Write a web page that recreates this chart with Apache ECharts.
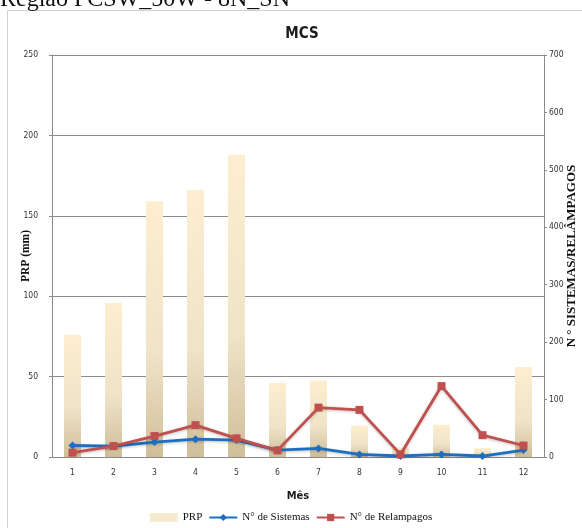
<!DOCTYPE html>
<html>
<head>
<meta charset="utf-8">
<script src="https://cdn.jsdelivr.net/npm/echarts@6/dist/echarts.min.js"></script>
<style>
  html, body { margin: 0; padding: 0; background: #fff; }
  #chart { width: 582px; height: 528px; }
</style>
</head>
<body>
<div id="chart"></div>
<script>
// Monthly precipitation and MCS counts
const months = ['1', '2', '3', '4', '5', '6', '7', '8', '9', '10', '11', '12'];
const prp = [76, 96, 159, 166, 188, 46, 47.5, 19.5, 6, 20, 5.5, 56];
const sistemas = [20, 19, 26, 31, 29.5, 12, 15, 4.5, 1.7, 4.5, 1.7, 12];
const relampagos = [7.5, 19, 36.5, 55.5, 32.5, 11.5, 86, 82, 4.5, 123.5, 38, 20];
const leftTicks = { min: 0, max: 250, interval: 50 };
const rightTicks = { min: 0, max: 700, interval: 100 };

const narrow = '"DejaVu Sans Condensed", "Liberation Sans Narrow", "Roboto Condensed", sans-serif';
const serif = '"Liberation Serif", "Times New Roman", serif';
const axisGray = '#8a8a8a';

const chart = echarts.init(document.getElementById('chart'));
chart.setOption({
  backgroundColor: '#fff',
  animation: false,
  title: {
    text: 'MCS',
    left: 297,
    textAlign: 'center',
    top: 22,
    textStyle: { fontFamily: narrow, fontWeight: 'bold', fontSize: 15, color: '#1a1a1a' }
  },
  graphic: [
    {
      type: 'rect',
      shape: { x: 7.5, y: 10.5, width: 700, height: 700 },
      style: { fill: 'none', stroke: '#d0d0d0', lineWidth: 1 },
      silent: true
    },
    {
      type: 'text',
      left: 0,
      top: -12,
      style: { text: 'Região PCSW_50W - 8N_SN', font: '24px ' + serif, fill: '#111' },
      silent: true
    }
  ],
  legend: {
    bottom: 0,
    left: 'center',
    itemGap: 6,
    itemWidth: 28,
    itemHeight: 9,
    textStyle: { fontFamily: serif, fontSize: 11, color: '#111' },
    data: [
      { name: 'PRP', icon: 'rect', itemStyle: { color: '#f6ead0' } },
      { name: 'N° de Sistemas' },
      { name: 'N° de Relampagos' }
    ]
  },
  grid: { left: 52, right: 38, top: 55, bottom: 71, outerBoundsMode: 'none', containLabel: false },
  xAxis: {
    type: 'category',
    data: months,
    boundaryGap: true,
    name: 'Mês',
    nameLocation: 'middle',
    nameGap: 34,
    nameMoveOverlap: false,
    nameTextStyle: { fontFamily: narrow, fontWeight: 'bold', fontSize: 11, color: '#1a1a1a' },
    axisLine: { lineStyle: { color: axisGray } },
    axisTick: { length: 4, lineStyle: { color: axisGray } },
    axisLabel: { margin: 11, fontFamily: narrow, fontSize: 8.5, color: '#333' }
  },
  yAxis: [
    {
      type: 'value',
      min: leftTicks.min,
      max: leftTicks.max,
      interval: leftTicks.interval,
      name: 'PRP (mm)',
      nameLocation: 'middle',
      nameRotate: 90,
      nameGap: 20,
      nameMoveOverlap: false,
      nameTextStyle: { fontFamily: serif, fontWeight: 'bold', fontSize: 11.5, color: '#111' },
      axisLine: { show: true, lineStyle: { color: axisGray } },
      axisTick: { show: true, length: 3, lineStyle: { color: axisGray } },
      axisLabel: { margin: 14, fontFamily: narrow, fontSize: 8.5, color: '#333' },
      splitLine: { show: true, lineStyle: { color: '#8c8c8c', width: 1 } }
    },
    {
      type: 'value',
      position: 'right',
      min: rightTicks.min,
      max: rightTicks.max,
      interval: rightTicks.interval,
      name: 'N ° SISTEMAS/RELÂMPAGOS',
      nameLocation: 'middle',
      nameRotate: 90,
      nameGap: 21,
      nameMoveOverlap: false,
      nameTextStyle: { fontFamily: serif, fontWeight: 'bold', fontSize: 13, color: '#111' },
      axisLine: { show: true, lineStyle: { color: axisGray } },
      axisTick: { show: true, length: 3, lineStyle: { color: axisGray } },
      axisLabel: { margin: 5, fontFamily: narrow, fontSize: 8.5, color: '#333' },
      splitLine: { show: false }
    }
  ],
  series: [
    {
      name: 'PRP',
      type: 'bar',
      yAxisIndex: 0,
      data: prp,
      barWidth: 17,
      itemStyle: {
        color: new echarts.graphic.LinearGradient(0, 0, 0, 1, [
          { offset: 0, color: '#fdeecf' },
          { offset: 0.6, color: '#efe3c8' },
          { offset: 1, color: '#cfbe99' }
        ])
      }
    },
    {
      name: 'N° de Sistemas',
      type: 'line',
      yAxisIndex: 1,
      data: sistemas,
      color: '#1c6fc0',
      lineStyle: { width: 2.8, color: '#1c6fc0', shadowColor: 'rgba(0,0,0,0.25)', shadowBlur: 3, shadowOffsetY: 1 },
      symbol: 'diamond',
      symbolSize: 8,
      itemStyle: { color: '#1c6fc0' },
      z: 3
    },
    {
      name: 'N° de Relampagos',
      type: 'line',
      yAxisIndex: 1,
      data: relampagos,
      color: '#c0504d',
      lineStyle: { width: 2.8, color: '#c0504d', shadowColor: 'rgba(0,0,0,0.25)', shadowBlur: 3, shadowOffsetY: 1 },
      symbol: 'rect',
      symbolSize: 8,
      itemStyle: { color: '#c0504d' },
      z: 4
    }
  ]
});
</script>
</body>
</html>
